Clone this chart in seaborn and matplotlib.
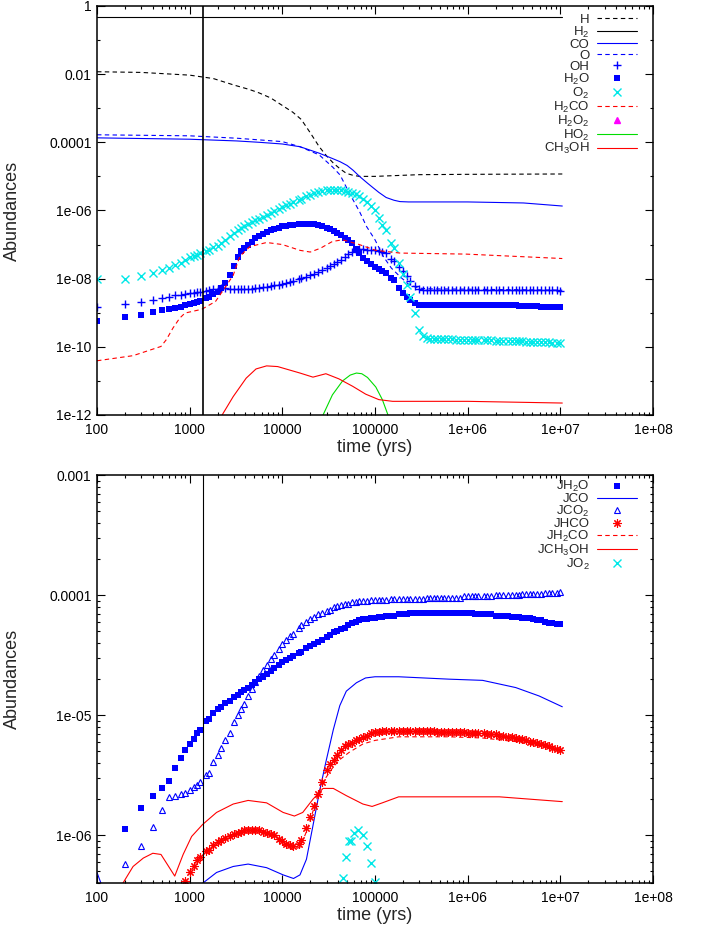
"""
Two-panel chemical abundance evolution (gas phase on top, grain mantle 'J' species
below), log-log, gnuplot look. Values are read off the reference picture and stored
as log10(abundance).
"""

import numpy as np
import matplotlib
matplotlib.use('Agg')
import matplotlib.pyplot as plt
from matplotlib.ticker import FixedLocator, FuncFormatter, LogLocator, NullFormatter
import seaborn as sns

# ---------------------------------------------------------------- time grids (yrs)
# output times of the marker series: 100..900 then E24 steps per decade
T_EARLY = [100, 200, 300, 400, 500, 600, 700, 800, 900]
T_D3 = [1000, 1100, 1200, 1300, 1500, 1600, 1800, 2000, 2200, 2400, 2700, 3000,
        3300, 3600, 3900, 4300, 4700, 5100, 5600, 6200, 6800, 7500, 8200, 9100]
T_D4 = [1.0e4, 1.1e4, 1.2e4, 1.3e4, 1.5e4, 1.6e4, 1.8e4, 2.0e4, 2.2e4, 2.4e4, 2.7e4, 3.0e4,
        3.3e4, 3.6e4, 3.9e4, 4.3e4, 4.7e4, 5.1e4, 5.6e4, 6.2e4, 6.8e4, 7.5e4, 8.2e4, 9.1e4]
T_D5 = [1.0e5, 1.1e5, 1.2e5, 1.3e5, 1.5e5, 1.6e5, 1.8e5, 2.0e5, 2.2e5, 2.4e5, 2.7e5, 3.0e5,
        3.3e5, 3.6e5, 3.9e5, 4.3e5, 4.7e5, 5.1e5, 5.6e5, 6.2e5, 6.8e5, 7.5e5, 8.2e5, 9.1e5]
T_D6 = [1.0e6, 1.1e6, 1.2e6, 1.3e6, 1.5e6, 1.6e6, 1.8e6, 2.0e6, 2.2e6, 2.4e6, 2.7e6, 3.0e6,
        3.3e6, 3.6e6, 3.9e6, 4.3e6, 4.7e6, 5.1e6, 5.6e6, 6.2e6, 6.8e6, 7.5e6, 8.2e6, 9.1e6]
T_END = [1.0e7]
T_GRID = T_EARLY + T_D3 + T_D4 + T_D5 + T_D6 + T_END

T_CUT = 1400  # vertical marker line

nan = np.nan

# ---------------------------------------------------------------- top panel (gas)
H2_T = [100, 1.05e7]
H2_LOG = [-0.31, -0.31]

H_T = [100, 300, 1000, 1800, 3000, 4400, 5600, 7500, 1.0e4, 1.3e4, 1.6e4, 2.0e4, 2.5e4,
       3.0e4, 3.55e4, 4.2e4, 4.9e4, 5.8e4, 6.8e4, 8.5e4, 1.0e5, 3.0e5, 1.0e6, 1.05e7]
H_LOG = [-1.93, -1.95, -2.03, -2.13, -2.32, -2.45, -2.55, -2.70, -2.92, -3.12, -3.33, -3.72,
         -4.13, -4.40, -4.61, -4.78, -4.91, -4.97, -5.0, -5.0, -5.0, -4.95, -4.94, -4.93]

CO_T = [100, 1000, 3200, 5600, 1.0e4, 1.55e4, 2.5e4, 3.5e4, 4.2e4, 5.0e4, 5.8e4, 6.8e4,
        8.3e4, 9.5e4, 1.1e5, 1.32e5, 1.6e5, 1.86e5, 2.3e5, 3.0e5, 1.0e6, 4.0e6, 1.05e7]
CO_LOG = [-3.87, -3.91, -3.96, -4.0, -4.05, -4.13, -4.32, -4.48, -4.57, -4.68, -4.82, -5.0,
          -5.2, -5.33, -5.47, -5.62, -5.70, -5.74, -5.75, -5.75, -5.75, -5.78, -5.87]

O_T = [100, 1000, 3200, 1.0e4, 1.55e4, 2.5e4, 3.5e4, 4.2e4, 5.4e4, 6.8e4, 8.1e4, 1.0e5,
       1.23e5, 1.5e5, 1.86e5, 2.34e5, 3.0e5, 4.0e5, 1.0e6, 1.05e7]
O_LOG = [-3.78, -3.81, -3.88, -3.98, -4.13, -4.37, -4.73, -4.96, -5.54, -6.03, -6.47, -6.86,
         -7.35, -7.69, -7.94, -8.18, -8.28, -8.30, -8.31, -8.34]

OH_LOG = [-8.84, -8.74, -8.68, -8.62, -8.56, -8.53, -8.49, -8.47, -8.45,
          -8.43, -8.42, -8.40, -8.38, -8.35, -8.33, -8.30, -8.29, -8.28, -8.28, -8.29, -8.29,
          -8.30, -8.30, -8.30, -8.30, -8.29, -8.28, -8.27, -8.26, -8.24, -8.22, -8.20, -8.18,
          -8.15, -8.12, -8.09, -8.07, -8.01, -7.99, -7.94, -7.90, -7.86, -7.81, -7.76, -7.70,
          -7.64, -7.56, -7.50, -7.44, -7.36, -7.29, -7.23, -7.15, -7.13, -7.14, -7.15, -7.16,
          -7.17, -7.19, -7.21, -7.26, -7.42, -7.48, -7.66, -7.79, -7.93, -8.07, -8.22, -8.30,
          -8.32, -8.33, -8.33, -8.33, -8.33, -8.33, -8.33, -8.33, -8.33, -8.33, -8.33, -8.33,
          -8.33, -8.33, -8.33, -8.33, -8.33, -8.33, -8.33, -8.33, -8.33, -8.33, -8.33, -8.33,
          -8.34, -8.34, -8.34, -8.34, -8.34, -8.34, -8.34, -8.34, -8.34, -8.34, -8.34, -8.34,
          -8.35]

H2O_LOG = [-9.24, -9.14, -9.07, -8.99, -8.93, -8.89, -8.85, -8.82, -8.78,
           -8.74, -8.71, -8.68, -8.65, -8.57, -8.55, -8.46, -8.38, -8.27, -8.13, -7.90, -7.62,
           -7.37, -7.20, -7.11, -7.01, -6.92, -6.81, -6.74, -6.68, -6.62, -6.57, -6.54, -6.50,
           -6.47, -6.45, -6.43, -6.42, -6.40, -6.40, -6.40, -6.40, -6.41, -6.43, -6.46, -6.50,
           -6.55, -6.60, -6.65, -6.72, -6.80, -6.88, -6.96, -7.12, -7.25, -7.40, -7.48, -7.58,
           -7.65, -7.71, -7.77, -7.83, -7.98, -8.03, -8.28, -8.42, -8.55, -8.64, -8.72, -8.76,
           -8.77, -8.77, -8.77, -8.77, -8.77, -8.77, -8.77, -8.77, -8.77, -8.77, -8.77, -8.77,
           -8.77, -8.77, -8.77, -8.77, -8.77, -8.77, -8.77, -8.77, -8.77, -8.77, -8.77, -8.77,
           -8.78, -8.79, -8.80, -8.80, -8.81, -8.81, -8.81, -8.82, -8.82, -8.82, -8.82, -8.82,
           -8.82]

O2_LOG = [-8.0, -8.0, -7.92, -7.84, -7.76, -7.70, -7.61, -7.53, -7.46,
          -7.38, -7.34, -7.30, -7.26, -7.18, -7.15, -7.08, -7.03, -6.95, -6.86, -6.76, -6.66,
          -6.58, -6.51, -6.46, -6.40, -6.34, -6.29, -6.24, -6.18, -6.13, -6.06, -6.02, -5.96,
          -5.90, -5.85, -5.80, -5.76, -5.69, -5.66, -5.58, -5.54, -5.50, -5.46, -5.43, -5.41,
          -5.40, -5.40, -5.40, -5.41, -5.43, -5.45, -5.48, -5.53, -5.58, -5.67, -5.74, -5.88,
          -6.00, -6.22, -6.42, -6.58, -6.96, -7.10, -7.55, -7.85, -8.20, -8.55, -9.00, -9.50,
          -9.68, -9.75, -9.76, -9.77, -9.77, -9.78, -9.78, -9.78, -9.78, -9.79, -9.79, -9.79,
          -9.79, -9.80, -9.80, -9.80, -9.81, -9.81, -9.81, -9.82, -9.82, -9.82, -9.83, -9.83,
          -9.83, -9.84, -9.84, -9.85, -9.85, -9.85, -9.86, -9.86, -9.87, -9.87, -9.88, -9.88,
          -9.89]

H2CO_T = [100, 245, 490, 560, 660, 780, 890, 1350, 1900, 2450, 2950, 3470, 4470, 6760,
          1.0e4, 1.55e4, 2.0e4, 2.57e4, 3.47e4, 4.47e4, 6.76e4, 1.02e5, 1.86e5, 9.5e5, 1.05e7]
H2CO_LOG = [-10.41, -10.26, -9.99, -9.79, -9.45, -9.16, -9.01, -8.90, -8.67, -8.23, -7.9,
            -7.35, -7.06, -6.94, -7.0, -7.17, -7.22, -7.11, -6.91, -6.86, -7.0, -7.17, -7.25,
            -7.28, -7.41]

H2O2_T = []      # below the plotted range everywhere
H2O2_LOG = []

HO2_T = [2.5e4, 2.75e4, 3.47e4, 4.47e4, 5.4e4, 6.3e4, 7.2e4, 8.3e4, 1.02e5, 1.2e5, 1.38e5, 1.48e5]
HO2_LOG = [-12.3, -12.0, -11.41, -11.0, -10.83, -10.77, -10.79, -10.9, -11.18, -11.55, -12.0, -12.3]

CH3OH_T = [1800, 2240, 2950, 4070, 5200, 6760, 8900, 1.0e4, 1.55e4, 2.14e4, 2.95e4, 4.07e4,
           5.75e4, 7.94e4, 1.1e5, 1.55e5, 1.0e6, 1.05e7]
CH3OH_LOG = [-12.45, -12.0, -11.46, -10.92, -10.65, -10.56, -10.58, -10.62, -10.77, -10.89,
             -10.79, -10.94, -11.16, -11.39, -11.55, -11.6, -11.6, -11.65]

# ---------------------------------------------------------------- bottom panel (ices)
JH2O_LOG = [nan, -5.95, -5.77, -5.67, -5.61, -5.55, -5.44, -5.36, -5.29,
            -5.24, -5.20, -5.15, -5.12, -5.05, -5.03, -4.98, -4.95, -4.93, -4.90, -4.88, -4.85,
            -4.83, -4.81, -4.79, -4.77, -4.75, -4.72, -4.70, -4.68, -4.66, -4.63, -4.61, -4.58,
            -4.56, -4.54, -4.52, -4.51, -4.48, -4.47, -4.44, -4.42, -4.41, -4.39, -4.37, -4.35,
            -4.33, -4.31, -4.30, -4.28, -4.27, -4.25, -4.23, -4.22, -4.21, -4.20, -4.20, -4.19,
            -4.19, -4.18, -4.18, -4.17, -4.17, -4.17, -4.16, -4.16, -4.16, -4.15, -4.15, -4.15,
            -4.15, -4.15, -4.15, -4.15, -4.15, -4.15, -4.15, -4.15, -4.15, -4.15, -4.15, -4.15,
            -4.15, -4.15, -4.16, -4.16, -4.16, -4.16, -4.16, -4.17, -4.17, -4.17, -4.17, -4.18,
            -4.18, -4.18, -4.19, -4.19, -4.19, -4.20, -4.21, -4.21, -4.22, -4.23, -4.23, -4.24,
            -4.24]

JCO_T = [100, 130, 1000, 1380, 1950, 2950, 4270, 6760, 1.02e4, 1.32e4, 1.55e4, 1.82e4,
         2.14e4, 2.51e4, 2.95e4, 3.55e4, 4.17e4, 4.9e4, 6.3e4, 7.9e4, 1.0e5, 1.8e5, 6.3e5,
         1.45e6, 3.3e6, 5.9e6, 1.05e7]
JCO_LOG = [-6.31, -6.55, -6.8, -6.40, -6.31, -6.26, -6.24, -6.27, -6.33, -6.36, -6.33, -6.20,
           -5.92, -5.64, -5.39, -5.12, -4.92, -4.80, -4.73, -4.69, -4.68, -4.68, -4.70,
           -4.71, -4.77, -4.84, -4.93]

JCO2_LOG = [nan, -6.24, -6.09, -5.93, -5.79, -5.68, -5.67, -5.66, -5.65,
            -5.62, -5.60, -5.58, -5.56, -5.50, -5.48, -5.39, -5.33, -5.27, -5.21, -5.15, -5.06,
            -5.00, -4.95, -4.91, -4.84, -4.78, -4.72, -4.67, -4.62, -4.58, -4.53, -4.50, -4.45,
            -4.41, -4.37, -4.34, -4.32, -4.27, -4.25, -4.22, -4.20, -4.18, -4.16, -4.15, -4.13,
            -4.12, -4.10, -4.09, -4.08, -4.07, -4.07, -4.06, -4.06, -4.05, -4.05, -4.05, -4.04,
            -4.04, -4.04, -4.04, -4.04, -4.03, -4.03, -4.03, -4.03, -4.03, -4.03, -4.03, -4.03,
            -4.03, -4.02, -4.02, -4.02, -4.02, -4.02, -4.02, -4.02, -4.02, -4.02, -4.02, -4.01,
            -4.01, -4.01, -4.01, -4.01, -4.01, -4.01, -4.01, -4.00, -4.00, -4.00, -4.00, -4.00,
            -4.00, -4.00, -3.99, -3.99, -3.99, -3.99, -3.99, -3.99, -3.98, -3.98, -3.98, -3.98,
            -3.97]

JHCO_LOG = [nan, nan, nan, nan, nan, nan, nan, nan, -6.38,
            -6.31, -6.26, -6.21, -6.18, -6.13, -6.12, -6.08, -6.06, -6.04, -6.02, -6.01, -5.99,
            -5.98, -5.97, -5.96, -5.96, -5.96, -5.96, -5.96, -5.97, -5.98, -5.99, -6.00, -6.03,
            -6.05, -6.07, -6.08, -6.09, -6.07, -6.04, -5.94, -5.85, -5.76, -5.66, -5.56, -5.46,
            -5.41, -5.37, -5.33, -5.29, -5.26, -5.24, -5.23, -5.21, -5.20, -5.18, -5.17, -5.15,
            -5.14, -5.14, -5.13, -5.13, -5.13, -5.13, -5.13, -5.13, -5.13, -5.13, -5.13, -5.13,
            -5.13, -5.13, -5.13, -5.13, -5.14, -5.14, -5.14, -5.14, -5.14, -5.14, -5.14, -5.14,
            -5.145, -5.15, -5.15, -5.15, -5.15, -5.16, -5.16, -5.16, -5.17, -5.17, -5.18, -5.18,
            -5.19, -5.20, -5.20, -5.21, -5.22, -5.22, -5.23, -5.24, -5.25, -5.26, -5.27, -5.28,
            -5.29]

JH2CO_T = [1.0e4, 1.3e4, 1.55e4, 1.82e4, 2.14e4, 2.51e4, 2.95e4, 3.55e4, 4.17e4, 5.25e4,
           7.4e4, 1.0e5, 1.8e5, 6.3e5, 1.45e6, 3.3e6, 6.5e6, 1.05e7]
JH2CO_LOG = [-6.08, -6.12, -6.10, -5.97, -5.80, -5.63, -5.52, -5.43, -5.37, -5.31,
             -5.24, -5.21, -5.18, -5.18, -5.19, -5.22, -5.26, -5.30]

JCH3OH_T = [150, 190, 245, 316, 400, 490, 560, 690, 850, 1050, 1380, 1950, 2950, 4270, 6760,
            1.02e4, 1.35e4, 1.66e4, 2.14e4, 2.75e4, 3.55e4, 4.9e4, 7.4e4, 9.3e4, 1.2e5, 1.8e5,
            4.2e5, 2.2e6, 1.05e7]
JCH3OH_LOG = [-6.6, -6.40, -6.26, -6.19, -6.15, -6.16, -6.23, -6.34, -6.16, -6.01, -5.91,
              -5.81, -5.74, -5.71, -5.73, -5.81, -5.84, -5.81, -5.70, -5.61, -5.61, -5.67,
              -5.74, -5.76, -5.73, -5.68, -5.68, -5.68, -5.72]

JO2_T = [4.47e4, 4.9e4, 5.25e4, 5.5e4, 6.0e4, 6.6e4, 7.4e4, 8.1e4, 9.1e4, 1.0e5]
JO2_LOG = [-6.36, -6.18, -6.05, -6.05, -5.98, -5.96, -6.0, -6.09, -6.23, -6.39]

BLACK, BLUE, CYAN, RED, GREEN, MAGENTA = '#000000', '#0000ff', '#00e8e8', '#ff0000', '#00dd00', '#ff00ff'
DASH = (0, (4, 3))


def draw(ax, t, logv, label, color, **kw):
    v = 10.0 ** np.asarray(logv, dtype=float)
    sns.lineplot(x=np.asarray(t, dtype=float), y=v, ax=ax, color=color, label=label,
                 estimator=None, sort=False, **kw)


def line(ax, t, logv, label, color, ls='-'):
    draw(ax, t, logv, label, color, linestyle=ls, linewidth=0.8)


def points(ax, t, logv, label, color, marker, size, **kw):
    # seaborn paints marker edges white by default; line-only markers need the colour
    kw.setdefault('markeredgecolor', color)
    draw(ax, t, logv, label, color, linestyle='', marker=marker, markersize=size, **kw)


def gnuplot_axes(ax, ymajor, yminor):
    ax.set_xscale('log')
    ax.set_yscale('log')
    ax.set_xlim(100, 1e8)
    fmt = FuncFormatter(lambda v, p: f'{v:g}')
    ax.xaxis.set_major_locator(FixedLocator([1e2, 1e3, 1e4, 1e5, 1e6, 1e7, 1e8]))
    ax.xaxis.set_minor_locator(LogLocator(base=10, subs=np.arange(2, 10), numticks=30))
    ax.xaxis.set_major_formatter(fmt)
    ax.xaxis.set_minor_formatter(NullFormatter())
    ax.yaxis.set_major_locator(FixedLocator(ymajor))
    ax.yaxis.set_minor_locator(yminor)
    ax.yaxis.set_major_formatter(fmt)
    ax.yaxis.set_minor_formatter(NullFormatter())
    ax.tick_params(which='both', direction='in', top=True, right=True, width=0.8,
                   labelsize=10, colors='black')
    ax.tick_params(which='major', length=5.5, pad=4)
    ax.tick_params(which='minor', length=2.5)
    ax.tick_params(axis='x', which='major', pad=6)
    for s in ax.spines.values():
        s.set_linewidth(1.1)
        s.set_color('black')
    ax.set_xlabel('time (yrs)', fontsize=13)
    ax.set_ylabel('Abundances', fontsize=13)
    ax.yaxis.set_label_coords(-0.137, 0.5)
    ax.xaxis.set_label_coords(0.5, -0.058)


def main():
    sns.set_style('ticks')
    plt.rcParams['font.family'] = ['Liberation Sans', 'DejaVu Sans']
    plt.rcParams['mathtext.default'] = 'regular'

    fig = plt.figure(figsize=(7.02, 9.30), dpi=100)
    ax1 = fig.add_axes([0.1382, 0.5538, 0.7920, 0.4398])
    ax2 = fig.add_axes([0.1382, 0.0505, 0.7920, 0.4387])

    # top: gas phase
    line(ax1, H_T, H_LOG, 'H', BLACK, DASH)
    line(ax1, H2_T, H2_LOG, 'H$_2$', BLACK)
    line(ax1, CO_T, CO_LOG, 'CO', BLUE)
    line(ax1, O_T, O_LOG, 'O', BLUE, DASH)
    points(ax1, T_GRID, OH_LOG, 'OH', BLUE, '+', 6, markeredgewidth=1.0)
    points(ax1, T_GRID, H2O_LOG, 'H$_2$O', BLUE, 's', 5, markeredgewidth=0)
    points(ax1, T_GRID, O2_LOG, 'O$_2$', CYAN, 'x', 5.5, markeredgewidth=1.0)
    line(ax1, H2CO_T, H2CO_LOG, 'H$_2$CO', RED, DASH)
    ax1.plot(H2O2_T, H2O2_LOG, linestyle='', marker='^', color=MAGENTA, markersize=5,
             label='H$_2$O$_2$')
    line(ax1, HO2_T, HO2_LOG, 'HO$_2$', GREEN)
    line(ax1, CH3OH_T, CH3OH_LOG, 'CH$_3$OH', RED)
    ax1.axvline(T_CUT, color=BLACK, linewidth=1.2)
    gnuplot_axes(ax1, [1e-12, 1e-10, 1e-8, 1e-6, 1e-4, 1e-2, 1],
                 FixedLocator([1e-11, 1e-9, 1e-7, 1e-5, 1e-3, 1e-1]))
    ax1.set_ylim(1e-12, 1)

    # bottom: ices
    points(ax2, T_GRID, JH2O_LOG, 'JH$_2$O', BLUE, 's', 5, markeredgewidth=0)
    line(ax2, JCO_T, JCO_LOG, 'JCO', BLUE)
    points(ax2, T_GRID, JCO2_LOG, 'JCO$_2$', BLUE, '^', 5, markerfacecolor='none',
           markeredgewidth=0.8)
    points(ax2, T_GRID, JHCO_LOG, 'JHCO', RED, (8, 2, 0), 6, markeredgewidth=0.8)
    line(ax2, JH2CO_T, JH2CO_LOG, 'JH$_2$CO', RED, DASH)
    line(ax2, JCH3OH_T, JCH3OH_LOG, 'JCH$_3$OH', RED)
    points(ax2, JO2_T, JO2_LOG, 'JO$_2$', CYAN, 'x', 5.5, markeredgewidth=1.0)
    ax2.axvline(T_CUT, color=BLACK, linewidth=0.8)
    gnuplot_axes(ax2, [1e-6, 1e-5, 1e-4, 1e-3],
                 LogLocator(base=10, subs=np.arange(2, 10), numticks=30))
    ax2.set_ylim(4e-7, 1e-3)

    for ax, top in ((ax1, 0.981), (ax2, 0.99)):
        ax.legend(loc='upper right', bbox_to_anchor=(0.971, top), frameon=False,
                  markerfirst=False, fontsize=9.5, handlelength=3.0, handletextpad=0.6,
                  labelspacing=-0.09, borderaxespad=0, borderpad=0, numpoints=1)

    fig.savefig('out.png', dpi=100)
    plt.close(fig)


if __name__ == '__main__':
    main()
